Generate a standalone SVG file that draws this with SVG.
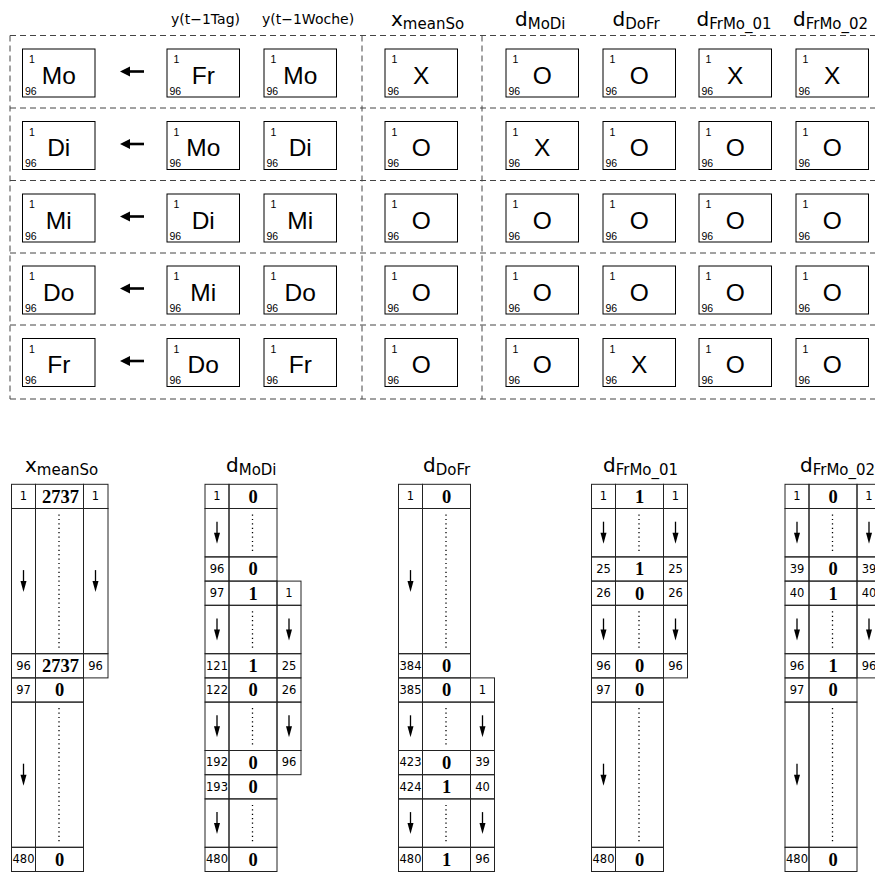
<svg xmlns="http://www.w3.org/2000/svg" xmlns:xlink="http://www.w3.org/1999/xlink" width="875" height="873" viewBox="0 0 875 873">
<style>
.bg{fill:#fff}
.dash{fill:none;stroke:#444;stroke-width:1;stroke-dasharray:6 4}
.box rect{fill:#fff;stroke:#000;stroke-width:1}
.s{font-family:"Liberation Sans",Arial,sans-serif;font-size:10.5px;fill:#000}
.b{font-family:"Liberation Sans",Arial,sans-serif;font-size:24.5px;fill:#000;text-anchor:middle}
.hd{font-family:"DejaVu Sans",sans-serif;font-size:14px;fill:#000}
.hm{font-family:"DejaVu Sans",sans-serif;font-size:20px;fill:#000}
.sub{font-size:15px}
.tb rect{fill:none;stroke:#222;stroke-width:1}
.n{font-family:"DejaVu Sans",sans-serif;font-size:11.5px;fill:#000;text-anchor:middle}
.v{font-family:"Liberation Serif","Times New Roman",serif;font-weight:bold;font-size:18.5px;fill:#000;text-anchor:middle}
.dot{stroke:#000;stroke-width:1.3;stroke-dasharray:1.2 3.2;fill:none}
</style>
<defs>
<g id="da"><path d="M0,-11 V1" stroke="#000" stroke-width="1.3" fill="none"/><path d="M-3,0 L3,0 L0,11 Z" fill="#000"/></g>
<g id="la"><path d="M9,0 H24" stroke="#000" stroke-width="2.6" fill="none"/><path d="M0,0 L10,-5 L10,5 Z" fill="#000"/></g>
</defs>
<rect class="bg" x="0" y="0" width="875" height="873"/>

<g id="headers-top">
<text class="hd" x="171" y="24">y(t−1Tag)</text>
<text class="hd" x="262" y="24">y(t−1Woche)</text>
<text class="hm" x="391" y="26">x<tspan class="sub" dy="2.5">meanSo</tspan></text>
<text class="hm" x="515" y="26">d<tspan class="sub" dy="2.5">MoDi</tspan></text>
<text class="hm" x="612.5" y="26">d<tspan class="sub" dy="2.5">DoFr</tspan></text>
<text class="hm" x="696.5" y="26">d<tspan class="sub" dy="2.5">FrMo_01</tspan></text>
<text class="hm" x="793" y="26">d<tspan class="sub" dy="2.5">FrMo_02</tspan></text>
</g>

<g id="frame">
<path class="dash" d="M10,35.5 H875 M10,399 H875 M10,35.5 V399 M362,35.5 V399 M482,35.5 V399 M10,108 H875 M10,180.5 H875 M10,253 H875 M10,325 H875"/>
</g>

<g id="connectors">
<use xlink:href="#la" x="120" y="71.5"/>
<use xlink:href="#la" x="120" y="144"/>
<use xlink:href="#la" x="120" y="216.5"/>
<use xlink:href="#la" x="120" y="288.5"/>
<use xlink:href="#la" x="120" y="361"/>
</g>

<!-- row 1 -->
<g id="r1c1" class="box" transform="translate(22.5,49)"><rect width="72.5" height="48"/><text class="s" x="6.5" y="14">1</text><text class="s" x="2.5" y="45.5">96</text><text class="b" x="36.25" y="34.5">Mo</text></g>
<g id="r1c2" class="box" transform="translate(167,49)"><rect width="72.5" height="48"/><text class="s" x="6.5" y="14">1</text><text class="s" x="2.5" y="45.5">96</text><text class="b" x="36.25" y="34.5">Fr</text></g>
<g id="r1c3" class="box" transform="translate(264,49)"><rect width="72.5" height="48"/><text class="s" x="6.5" y="14">1</text><text class="s" x="2.5" y="45.5">96</text><text class="b" x="36.25" y="34.5">Mo</text></g>
<g id="r1c4" class="box" transform="translate(385,49)"><rect width="72.5" height="48"/><text class="s" x="6.5" y="14">1</text><text class="s" x="2.5" y="45.5">96</text><text class="b" x="36.25" y="34.5">X</text></g>
<g id="r1c5" class="box" transform="translate(506,49)"><rect width="72.5" height="48"/><text class="s" x="6.5" y="14">1</text><text class="s" x="2.5" y="45.5">96</text><text class="b" x="36.25" y="34.5">O</text></g>
<g id="r1c6" class="box" transform="translate(603,49)"><rect width="72.5" height="48"/><text class="s" x="6.5" y="14">1</text><text class="s" x="2.5" y="45.5">96</text><text class="b" x="36.25" y="34.5">O</text></g>
<g id="r1c7" class="box" transform="translate(699,49)"><rect width="72.5" height="48"/><text class="s" x="6.5" y="14">1</text><text class="s" x="2.5" y="45.5">96</text><text class="b" x="36.25" y="34.5">X</text></g>
<g id="r1c8" class="box" transform="translate(796,49)"><rect width="72.5" height="48"/><text class="s" x="6.5" y="14">1</text><text class="s" x="2.5" y="45.5">96</text><text class="b" x="36.25" y="34.5">X</text></g>
<!-- row 2 -->
<g id="r2c1" class="box" transform="translate(22.5,121.5)"><rect width="72.5" height="48"/><text class="s" x="6.5" y="14">1</text><text class="s" x="2.5" y="45.5">96</text><text class="b" x="36.25" y="34.5">Di</text></g>
<g id="r2c2" class="box" transform="translate(167,121.5)"><rect width="72.5" height="48"/><text class="s" x="6.5" y="14">1</text><text class="s" x="2.5" y="45.5">96</text><text class="b" x="36.25" y="34.5">Mo</text></g>
<g id="r2c3" class="box" transform="translate(264,121.5)"><rect width="72.5" height="48"/><text class="s" x="6.5" y="14">1</text><text class="s" x="2.5" y="45.5">96</text><text class="b" x="36.25" y="34.5">Di</text></g>
<g id="r2c4" class="box" transform="translate(385,121.5)"><rect width="72.5" height="48"/><text class="s" x="6.5" y="14">1</text><text class="s" x="2.5" y="45.5">96</text><text class="b" x="36.25" y="34.5">O</text></g>
<g id="r2c5" class="box" transform="translate(506,121.5)"><rect width="72.5" height="48"/><text class="s" x="6.5" y="14">1</text><text class="s" x="2.5" y="45.5">96</text><text class="b" x="36.25" y="34.5">X</text></g>
<g id="r2c6" class="box" transform="translate(603,121.5)"><rect width="72.5" height="48"/><text class="s" x="6.5" y="14">1</text><text class="s" x="2.5" y="45.5">96</text><text class="b" x="36.25" y="34.5">O</text></g>
<g id="r2c7" class="box" transform="translate(699,121.5)"><rect width="72.5" height="48"/><text class="s" x="6.5" y="14">1</text><text class="s" x="2.5" y="45.5">96</text><text class="b" x="36.25" y="34.5">O</text></g>
<g id="r2c8" class="box" transform="translate(796,121.5)"><rect width="72.5" height="48"/><text class="s" x="6.5" y="14">1</text><text class="s" x="2.5" y="45.5">96</text><text class="b" x="36.25" y="34.5">O</text></g>
<!-- row 3 -->
<g id="r3c1" class="box" transform="translate(22.5,194)"><rect width="72.5" height="48"/><text class="s" x="6.5" y="14">1</text><text class="s" x="2.5" y="45.5">96</text><text class="b" x="36.25" y="34.5">Mi</text></g>
<g id="r3c2" class="box" transform="translate(167,194)"><rect width="72.5" height="48"/><text class="s" x="6.5" y="14">1</text><text class="s" x="2.5" y="45.5">96</text><text class="b" x="36.25" y="34.5">Di</text></g>
<g id="r3c3" class="box" transform="translate(264,194)"><rect width="72.5" height="48"/><text class="s" x="6.5" y="14">1</text><text class="s" x="2.5" y="45.5">96</text><text class="b" x="36.25" y="34.5">Mi</text></g>
<g id="r3c4" class="box" transform="translate(385,194)"><rect width="72.5" height="48"/><text class="s" x="6.5" y="14">1</text><text class="s" x="2.5" y="45.5">96</text><text class="b" x="36.25" y="34.5">O</text></g>
<g id="r3c5" class="box" transform="translate(506,194)"><rect width="72.5" height="48"/><text class="s" x="6.5" y="14">1</text><text class="s" x="2.5" y="45.5">96</text><text class="b" x="36.25" y="34.5">O</text></g>
<g id="r3c6" class="box" transform="translate(603,194)"><rect width="72.5" height="48"/><text class="s" x="6.5" y="14">1</text><text class="s" x="2.5" y="45.5">96</text><text class="b" x="36.25" y="34.5">O</text></g>
<g id="r3c7" class="box" transform="translate(699,194)"><rect width="72.5" height="48"/><text class="s" x="6.5" y="14">1</text><text class="s" x="2.5" y="45.5">96</text><text class="b" x="36.25" y="34.5">O</text></g>
<g id="r3c8" class="box" transform="translate(796,194)"><rect width="72.5" height="48"/><text class="s" x="6.5" y="14">1</text><text class="s" x="2.5" y="45.5">96</text><text class="b" x="36.25" y="34.5">O</text></g>
<!-- row 4 -->
<g id="r4c1" class="box" transform="translate(22.5,266)"><rect width="72.5" height="48"/><text class="s" x="6.5" y="14">1</text><text class="s" x="2.5" y="45.5">96</text><text class="b" x="36.25" y="34.5">Do</text></g>
<g id="r4c2" class="box" transform="translate(167,266)"><rect width="72.5" height="48"/><text class="s" x="6.5" y="14">1</text><text class="s" x="2.5" y="45.5">96</text><text class="b" x="36.25" y="34.5">Mi</text></g>
<g id="r4c3" class="box" transform="translate(264,266)"><rect width="72.5" height="48"/><text class="s" x="6.5" y="14">1</text><text class="s" x="2.5" y="45.5">96</text><text class="b" x="36.25" y="34.5">Do</text></g>
<g id="r4c4" class="box" transform="translate(385,266)"><rect width="72.5" height="48"/><text class="s" x="6.5" y="14">1</text><text class="s" x="2.5" y="45.5">96</text><text class="b" x="36.25" y="34.5">O</text></g>
<g id="r4c5" class="box" transform="translate(506,266)"><rect width="72.5" height="48"/><text class="s" x="6.5" y="14">1</text><text class="s" x="2.5" y="45.5">96</text><text class="b" x="36.25" y="34.5">O</text></g>
<g id="r4c6" class="box" transform="translate(603,266)"><rect width="72.5" height="48"/><text class="s" x="6.5" y="14">1</text><text class="s" x="2.5" y="45.5">96</text><text class="b" x="36.25" y="34.5">O</text></g>
<g id="r4c7" class="box" transform="translate(699,266)"><rect width="72.5" height="48"/><text class="s" x="6.5" y="14">1</text><text class="s" x="2.5" y="45.5">96</text><text class="b" x="36.25" y="34.5">O</text></g>
<g id="r4c8" class="box" transform="translate(796,266)"><rect width="72.5" height="48"/><text class="s" x="6.5" y="14">1</text><text class="s" x="2.5" y="45.5">96</text><text class="b" x="36.25" y="34.5">O</text></g>
<!-- row 5 -->
<g id="r5c1" class="box" transform="translate(22.5,338.5)"><rect width="72.5" height="48"/><text class="s" x="6.5" y="14">1</text><text class="s" x="2.5" y="45.5">96</text><text class="b" x="36.25" y="34.5">Fr</text></g>
<g id="r5c2" class="box" transform="translate(167,338.5)"><rect width="72.5" height="48"/><text class="s" x="6.5" y="14">1</text><text class="s" x="2.5" y="45.5">96</text><text class="b" x="36.25" y="34.5">Do</text></g>
<g id="r5c3" class="box" transform="translate(264,338.5)"><rect width="72.5" height="48"/><text class="s" x="6.5" y="14">1</text><text class="s" x="2.5" y="45.5">96</text><text class="b" x="36.25" y="34.5">Fr</text></g>
<g id="r5c4" class="box" transform="translate(385,338.5)"><rect width="72.5" height="48"/><text class="s" x="6.5" y="14">1</text><text class="s" x="2.5" y="45.5">96</text><text class="b" x="36.25" y="34.5">O</text></g>
<g id="r5c5" class="box" transform="translate(506,338.5)"><rect width="72.5" height="48"/><text class="s" x="6.5" y="14">1</text><text class="s" x="2.5" y="45.5">96</text><text class="b" x="36.25" y="34.5">O</text></g>
<g id="r5c6" class="box" transform="translate(603,338.5)"><rect width="72.5" height="48"/><text class="s" x="6.5" y="14">1</text><text class="s" x="2.5" y="45.5">96</text><text class="b" x="36.25" y="34.5">X</text></g>
<g id="r5c7" class="box" transform="translate(699,338.5)"><rect width="72.5" height="48"/><text class="s" x="6.5" y="14">1</text><text class="s" x="2.5" y="45.5">96</text><text class="b" x="36.25" y="34.5">O</text></g>
<g id="r5c8" class="box" transform="translate(796,338.5)"><rect width="72.5" height="48"/><text class="s" x="6.5" y="14">1</text><text class="s" x="2.5" y="45.5">96</text><text class="b" x="36.25" y="34.5">O</text></g>

<!-- bottom headers -->
<g id="headers-bottom">
<text class="hm" x="25" y="472">x<tspan class="sub" dy="2.5">meanSo</tspan></text>
<text class="hm" x="226" y="472">d<tspan class="sub" dy="2.5">MoDi</tspan></text>
<text class="hm" x="423" y="472">d<tspan class="sub" dy="2.5">DoFr</tspan></text>
<text class="hm" x="603" y="472">d<tspan class="sub" dy="2.5">FrMo_01</tspan></text>
<text class="hm" x="800" y="472">d<tspan class="sub" dy="2.5">FrMo_02</tspan></text>
</g>

<!-- table 1 x_meanSo -->
<g id="t1" class="tb" transform="translate(11.5,484.3)">
<rect x="0" y="0" width="24" height="24.2"/><rect x="24" y="0" width="48" height="24.2"/><rect x="72" y="0" width="24.5" height="24.2"/>
<rect x="0" y="24.2" width="24" height="145.2"/><rect x="24" y="24.2" width="48" height="145.2"/><rect x="72" y="24.2" width="24.5" height="145.2"/>
<rect x="0" y="169.4" width="24" height="24.2"/><rect x="24" y="169.4" width="48" height="24.2"/><rect x="72" y="169.4" width="24.5" height="24.2"/>
<rect x="0" y="193.6" width="24" height="24.2"/><rect x="24" y="193.6" width="48" height="24.2"/>
<rect x="0" y="217.8" width="24" height="145.2"/><rect x="24" y="217.8" width="48" height="145.2"/>
<rect x="0" y="363" width="24" height="24.2"/><rect x="24" y="363" width="48" height="24.2"/>
<text class="n" x="12" y="16">1</text><text class="v" x="49" y="18.5">2737</text><text class="n" x="84" y="16">1</text>
<use xlink:href="#da" x="12" y="96.8"/><path class="dot" d="M47.5,30.2 V163.4"/><use xlink:href="#da" x="84" y="96.8"/>
<text class="n" x="12" y="185.4">96</text><text class="v" x="49" y="187.9">2737</text><text class="n" x="84" y="185.4">96</text>
<text class="n" x="12" y="209.6">97</text><text class="v" x="48" y="212.1">0</text>
<use xlink:href="#da" x="12" y="290.4"/><path class="dot" d="M47.5,223.8 V357"/>
<text class="n" x="12" y="379">480</text><text class="v" x="48" y="381.5">0</text>
</g>

<!-- table 2 d_MoDi -->
<g id="t2" class="tb" transform="translate(205,484.3)">
<rect x="0" y="0" width="24" height="24.2"/><rect x="24" y="0" width="48" height="24.2"/>
<rect x="0" y="24.2" width="24" height="48.4"/><rect x="24" y="24.2" width="48" height="48.4"/>
<rect x="0" y="72.6" width="24" height="24.2"/><rect x="24" y="72.6" width="48" height="24.2"/>
<rect x="0" y="96.8" width="24" height="24.2"/><rect x="24" y="96.8" width="48" height="24.2"/><rect x="72" y="96.8" width="24" height="24.2"/>
<rect x="0" y="121" width="24" height="48.4"/><rect x="24" y="121" width="48" height="48.4"/><rect x="72" y="121" width="24" height="48.4"/>
<rect x="0" y="169.4" width="24" height="24.2"/><rect x="24" y="169.4" width="48" height="24.2"/><rect x="72" y="169.4" width="24" height="24.2"/>
<rect x="0" y="193.6" width="24" height="24.2"/><rect x="24" y="193.6" width="48" height="24.2"/><rect x="72" y="193.6" width="24" height="24.2"/>
<rect x="0" y="217.8" width="24" height="48.4"/><rect x="24" y="217.8" width="48" height="48.4"/><rect x="72" y="217.8" width="24" height="48.4"/>
<rect x="0" y="266.2" width="24" height="24.2"/><rect x="24" y="266.2" width="48" height="24.2"/><rect x="72" y="266.2" width="24" height="24.2"/>
<rect x="0" y="290.4" width="24" height="24.2"/><rect x="24" y="290.4" width="48" height="24.2"/>
<rect x="0" y="314.6" width="24" height="48.4"/><rect x="24" y="314.6" width="48" height="48.4"/>
<rect x="0" y="363" width="24" height="24.2"/><rect x="24" y="363" width="48" height="24.2"/>
<text class="n" x="12" y="16">1</text><text class="v" x="48" y="18.5">0</text>
<use xlink:href="#da" x="12" y="48.4"/><path class="dot" d="M47.5,30.2 V66.6"/>
<text class="n" x="12" y="88.6">96</text><text class="v" x="48" y="91.1">0</text>
<text class="n" x="12" y="112.8">97</text><text class="v" x="48" y="115.3">1</text><text class="n" x="84" y="112.8">1</text>
<use xlink:href="#da" x="12" y="145.2"/><path class="dot" d="M47.5,127 V163.4"/><use xlink:href="#da" x="84" y="145.2"/>
<text class="n" x="12" y="185.4">121</text><text class="v" x="48" y="187.9">1</text><text class="n" x="84" y="185.4">25</text>
<text class="n" x="12" y="209.6">122</text><text class="v" x="48" y="212.1">0</text><text class="n" x="84" y="209.6">26</text>
<use xlink:href="#da" x="12" y="242"/><path class="dot" d="M47.5,223.8 V260.2"/><use xlink:href="#da" x="84" y="242"/>
<text class="n" x="12" y="282.2">192</text><text class="v" x="48" y="284.7">0</text><text class="n" x="84" y="282.2">96</text>
<text class="n" x="12" y="306.4">193</text><text class="v" x="48" y="308.9">0</text>
<use xlink:href="#da" x="12" y="338.8"/><path class="dot" d="M47.5,320.6 V357"/>
<text class="n" x="12" y="379">480</text><text class="v" x="48" y="381.5">0</text>
</g>

<!-- table 3 d_DoFr -->
<g id="t3" class="tb" transform="translate(398.5,484.3)">
<rect x="0" y="0" width="24" height="24.2"/><rect x="24" y="0" width="48" height="24.2"/>
<rect x="0" y="24.2" width="24" height="145.2"/><rect x="24" y="24.2" width="48" height="145.2"/>
<rect x="0" y="169.4" width="24" height="24.2"/><rect x="24" y="169.4" width="48" height="24.2"/>
<rect x="0" y="193.6" width="24" height="24.2"/><rect x="24" y="193.6" width="48" height="24.2"/><rect x="72" y="193.6" width="24" height="24.2"/>
<rect x="0" y="217.8" width="24" height="48.4"/><rect x="24" y="217.8" width="48" height="48.4"/><rect x="72" y="217.8" width="24" height="48.4"/>
<rect x="0" y="266.2" width="24" height="24.2"/><rect x="24" y="266.2" width="48" height="24.2"/><rect x="72" y="266.2" width="24" height="24.2"/>
<rect x="0" y="290.4" width="24" height="24.2"/><rect x="24" y="290.4" width="48" height="24.2"/><rect x="72" y="290.4" width="24" height="24.2"/>
<rect x="0" y="314.6" width="24" height="48.4"/><rect x="24" y="314.6" width="48" height="48.4"/><rect x="72" y="314.6" width="24" height="48.4"/>
<rect x="0" y="363" width="24" height="24.2"/><rect x="24" y="363" width="48" height="24.2"/><rect x="72" y="363" width="24" height="24.2"/>
<text class="n" x="12" y="16">1</text><text class="v" x="48" y="18.5">0</text>
<use xlink:href="#da" x="12" y="96.8"/><path class="dot" d="M47.5,30.2 V163.4"/>
<text class="n" x="12" y="185.4">384</text><text class="v" x="48" y="187.9">0</text>
<text class="n" x="12" y="209.6">385</text><text class="v" x="48" y="212.1">0</text><text class="n" x="84" y="209.6">1</text>
<use xlink:href="#da" x="12" y="242"/><path class="dot" d="M47.5,223.8 V260.2"/><use xlink:href="#da" x="84" y="242"/>
<text class="n" x="12" y="282.2">423</text><text class="v" x="48" y="284.7">0</text><text class="n" x="84" y="282.2">39</text>
<text class="n" x="12" y="306.4">424</text><text class="v" x="48" y="308.9">1</text><text class="n" x="84" y="306.4">40</text>
<use xlink:href="#da" x="12" y="338.8"/><path class="dot" d="M47.5,320.6 V357"/><use xlink:href="#da" x="84" y="338.8"/>
<text class="n" x="12" y="379">480</text><text class="v" x="48" y="381.5">1</text><text class="n" x="84" y="379">96</text>
</g>

<!-- table 4 d_FrMo_01 -->
<g id="t4" class="tb" transform="translate(591.5,484.3)">
<rect x="0" y="0" width="24" height="24.2"/><rect x="24" y="0" width="48" height="24.2"/><rect x="72" y="0" width="24" height="24.2"/>
<rect x="0" y="24.2" width="24" height="48.4"/><rect x="24" y="24.2" width="48" height="48.4"/><rect x="72" y="24.2" width="24" height="48.4"/>
<rect x="0" y="72.6" width="24" height="24.2"/><rect x="24" y="72.6" width="48" height="24.2"/><rect x="72" y="72.6" width="24" height="24.2"/>
<rect x="0" y="96.8" width="24" height="24.2"/><rect x="24" y="96.8" width="48" height="24.2"/><rect x="72" y="96.8" width="24" height="24.2"/>
<rect x="0" y="121" width="24" height="48.4"/><rect x="24" y="121" width="48" height="48.4"/><rect x="72" y="121" width="24" height="48.4"/>
<rect x="0" y="169.4" width="24" height="24.2"/><rect x="24" y="169.4" width="48" height="24.2"/><rect x="72" y="169.4" width="24" height="24.2"/>
<rect x="0" y="193.6" width="24" height="24.2"/><rect x="24" y="193.6" width="48" height="24.2"/>
<rect x="0" y="217.8" width="24" height="145.2"/><rect x="24" y="217.8" width="48" height="145.2"/>
<rect x="0" y="363" width="24" height="24.2"/><rect x="24" y="363" width="48" height="24.2"/>
<text class="n" x="12" y="16">1</text><text class="v" x="48" y="18.5">1</text><text class="n" x="84" y="16">1</text>
<use xlink:href="#da" x="12" y="48.4"/><path class="dot" d="M47.5,30.2 V66.6"/><use xlink:href="#da" x="84" y="48.4"/>
<text class="n" x="12" y="88.6">25</text><text class="v" x="48" y="91.1">1</text><text class="n" x="84" y="88.6">25</text>
<text class="n" x="12" y="112.8">26</text><text class="v" x="48" y="115.3">0</text><text class="n" x="84" y="112.8">26</text>
<use xlink:href="#da" x="12" y="145.2"/><path class="dot" d="M47.5,127 V163.4"/><use xlink:href="#da" x="84" y="145.2"/>
<text class="n" x="12" y="185.4">96</text><text class="v" x="48" y="187.9">0</text><text class="n" x="84" y="185.4">96</text>
<text class="n" x="12" y="209.6">97</text><text class="v" x="48" y="212.1">0</text>
<use xlink:href="#da" x="12" y="290.4"/><path class="dot" d="M47.5,223.8 V357"/>
<text class="n" x="12" y="379">480</text><text class="v" x="48" y="381.5">0</text>
</g>

<!-- table 5 d_FrMo_02 -->
<g id="t5" class="tb" transform="translate(785,484.3)">
<rect x="0" y="0" width="24" height="24.2"/><rect x="24" y="0" width="48" height="24.2"/><rect x="72" y="0" width="24" height="24.2"/>
<rect x="0" y="24.2" width="24" height="48.4"/><rect x="24" y="24.2" width="48" height="48.4"/><rect x="72" y="24.2" width="24" height="48.4"/>
<rect x="0" y="72.6" width="24" height="24.2"/><rect x="24" y="72.6" width="48" height="24.2"/><rect x="72" y="72.6" width="24" height="24.2"/>
<rect x="0" y="96.8" width="24" height="24.2"/><rect x="24" y="96.8" width="48" height="24.2"/><rect x="72" y="96.8" width="24" height="24.2"/>
<rect x="0" y="121" width="24" height="48.4"/><rect x="24" y="121" width="48" height="48.4"/><rect x="72" y="121" width="24" height="48.4"/>
<rect x="0" y="169.4" width="24" height="24.2"/><rect x="24" y="169.4" width="48" height="24.2"/><rect x="72" y="169.4" width="24" height="24.2"/>
<rect x="0" y="193.6" width="24" height="24.2"/><rect x="24" y="193.6" width="48" height="24.2"/>
<rect x="0" y="217.8" width="24" height="145.2"/><rect x="24" y="217.8" width="48" height="145.2"/>
<rect x="0" y="363" width="24" height="24.2"/><rect x="24" y="363" width="48" height="24.2"/>
<text class="n" x="12" y="16">1</text><text class="v" x="48" y="18.5">0</text><text class="n" x="84" y="16">1</text>
<use xlink:href="#da" x="12" y="48.4"/><path class="dot" d="M47.5,30.2 V66.6"/><use xlink:href="#da" x="84" y="48.4"/>
<text class="n" x="12" y="88.6">39</text><text class="v" x="48" y="91.1">0</text><text class="n" x="84" y="88.6">39</text>
<text class="n" x="12" y="112.8">40</text><text class="v" x="48" y="115.3">1</text><text class="n" x="84" y="112.8">40</text>
<use xlink:href="#da" x="12" y="145.2"/><path class="dot" d="M47.5,127 V163.4"/><use xlink:href="#da" x="84" y="145.2"/>
<text class="n" x="12" y="185.4">96</text><text class="v" x="48" y="187.9">1</text><text class="n" x="84" y="185.4">96</text>
<text class="n" x="12" y="209.6">97</text><text class="v" x="48" y="212.1">0</text>
<use xlink:href="#da" x="12" y="290.4"/><path class="dot" d="M47.5,223.8 V357"/>
<text class="n" x="12" y="379">480</text><text class="v" x="48" y="381.5">0</text>
</g>
</svg>
